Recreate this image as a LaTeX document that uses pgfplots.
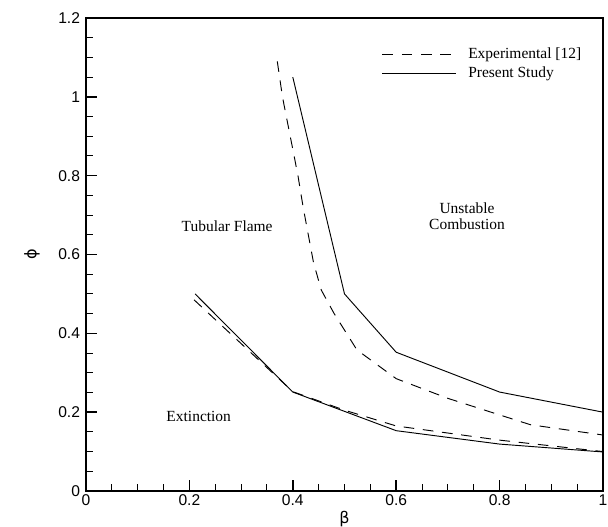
\documentclass[border=0pt]{standalone}
\usepackage{pgfplots}
\pgfplotsset{compat=1.18}
\usepackage{fontspec}
\setmainfont{Liberation Serif}
\newfontfamily\ticksf{Liberation Sans}
\newfontfamily\greek{DejaVu Sans}

\begin{document}
\begin{tikzpicture}
\useasboundingbox (-64.5pt,-27pt) rectangle (391.5pt,368.25pt);
\begin{axis}[
    scale only axis,
    width=387.75pt, height=354.75pt,
    xmin=0, xmax=1, ymin=0, ymax=1.2,
    xtick={0,0.2,0.4,0.6,0.8,1},
    ytick={0,0.2,0.4,0.6,0.8,1,1.2},
    minor x tick num=3, minor y tick num=3,
    xticklabels={0,0.2,0.4,0.6,0.8,1},
    yticklabels={0,0.2,0.4,0.6,0.8,1,1.2},
    tick align=inside,
    xtick pos=bottom, ytick pos=left,
    major tick length=8.5pt, minor tick length=5pt,
    every major tick/.style={line width=1.2pt, black},
    every minor tick/.style={line width=0.7pt, black},
    axis line style={line width=1.7pt},
    tick label style={font=\ticksf\fontsize{11.7}{14}\selectfont},
    yticklabel style={xshift=-1pt},
    xticklabel style={yshift=1pt},
    xlabel={\greek\fontsize{12}{14}\selectfont β},
    ylabel={\greek\fontsize{12}{14}\selectfont ϕ},
    every axis x label/.style={at={(axis description cs:0.5,0)}, yshift=-21pt, anchor=center},
    every axis y label/.style={at={(axis description cs:0,0.5)}, xshift=-40.5pt, rotate=90, anchor=center},
    clip=false,
    legend style={draw=none, fill=none, at={(rel axis cs:0.572,0.943)}, anchor=north west,
        font=\fontsize{11.6}{14}\selectfont, row sep=0.5pt, inner sep=0pt},
    legend cell align=left,
    legend image code/.code={\draw[#1] (0pt,0pt) -- (55pt,0pt); \path (62pt,0pt);},
]
% experimental, upper boundary
\addplot[black, line width=0.7pt, dash pattern=on 8pt off 6.5pt] coordinates {
(0.370,1.090) (0.380,1.000) (0.395,0.900) (0.410,0.800) (0.420,0.720)
(0.430,0.650) (0.440,0.580) (0.455,0.510) (0.480,0.450) (0.524,0.358)
(0.600,0.285) (0.700,0.235) (0.800,0.193) (0.860,0.168) (1.000,0.142)
};
% present study, upper boundary
\addplot[black, line width=0.7pt] coordinates {
(0.400,1.050) (0.500,0.500) (0.600,0.352) (0.800,0.251) (1.000,0.200)
};
% experimental, lower boundary
\addplot[black, line width=0.7pt, dash pattern=on 8pt off 6.5pt, forget plot] coordinates {
(0.209,0.485) (0.400,0.252) (0.500,0.205) (0.600,0.165) (0.800,0.129) (1.000,0.100)
};
% present study, lower boundary
\addplot[black, line width=0.7pt, forget plot] coordinates {
(0.211,0.500) (0.400,0.251) (0.600,0.153) (0.800,0.119) (1.000,0.099)
};
\legend{Experimental [12], Present Study}
\node[font=\fontsize{11.6}{14}\selectfont] at (axis cs:0.273,0.672) {Tubular Flame};
\node[font=\fontsize{11.6}{14}\selectfont, align=center] at (axis cs:0.737,0.698) {Unstable\\[-2pt]Combustion};
\node[font=\fontsize{11.6}{14}\selectfont] at (axis cs:0.218,0.190) {Extinction};
\end{axis}
\end{tikzpicture}
\end{document}
